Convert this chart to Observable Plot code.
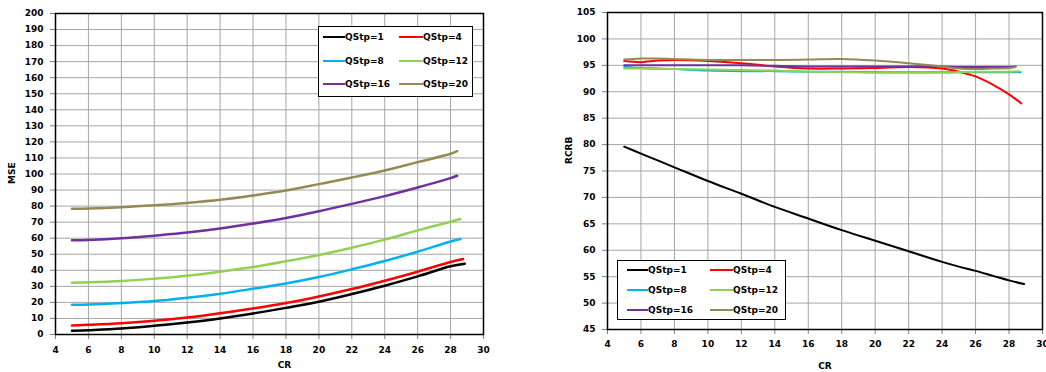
<!DOCTYPE html>
<html>
<head>
<meta charset="utf-8">
<script src="https://cdn.jsdelivr.net/npm/d3@7"></script>
<script src="https://cdn.jsdelivr.net/npm/@observablehq/plot@0.6"></script>
<style>
  html, body { margin: 0; padding: 0; background: white; }
  #wrap { position: relative; width: 1046px; height: 372px; overflow: hidden; font-family: "DejaVu Sans", sans-serif; font-weight: bold; font-size: 9px; }
  #wrap svg { position: absolute; top: 0; max-width: none; }
  .legend { position: absolute; background: white; border: 1.5px solid black; box-sizing: border-box; }
  .sw { position: absolute; height: 2.5px; }
  .lt { position: absolute; line-height: 10px; white-space: nowrap; color: black; }
</style>
</head>
<body>
<div id="wrap"></div>
<script>
// ---------- data ----------
const seriesNames = ["QStp=1", "QStp=4", "QStp=8", "QStp=12", "QStp=16", "QStp=20"];
const seriesColors = ["#000000", "#ff0000", "#00b0f0", "#92d050", "#7030a0", "#948a54"];

// Left chart: MSE vs CR
const crLeft = [5, 6, 8, 10, 12, 14, 16, 18, 20, 22, 24, 26, 28];
const crLeftEnd = [28.86, 28.76, 28.6, 28.58, 28.4, 28.4];
const mse1  = [2.3, 2.7, 3.7, 5.4, 7.5, 10.0, 13.1, 16.6, 20.4, 25.2, 30.4, 36.2, 42.5, 44.1];
const mse4  = [5.6, 6.0, 7.0, 8.5, 10.6, 13.3, 16.2, 19.6, 23.7, 28.3, 33.5, 39.1, 45.2, 47.0];
const mse8  = [18.5, 18.7, 19.6, 20.8, 22.9, 25.4, 28.5, 31.8, 35.8, 40.6, 45.8, 51.6, 57.9, 59.5];
const mse12 = [32.3, 32.5, 33.3, 34.8, 36.6, 39.1, 42.0, 45.6, 49.5, 54.1, 59.1, 64.9, 70.3, 72.0];
const mse16 = [58.7, 58.9, 59.9, 61.6, 63.5, 66.0, 69.1, 72.6, 76.8, 81.4, 86.2, 91.6, 97.4, 98.9];
const mse20 = [78.3, 78.5, 79.3, 80.5, 82.0, 83.9, 86.6, 89.7, 93.7, 97.8, 102.2, 107.4, 112.6, 114.3];
const mseTicksY = d3.range(0, 201, 10);
const crTicks = d3.range(4, 31, 2);

// Right chart: RCRB vs CR
const crRight = [5, 6, 7, 8, 10, 12, 14, 16, 18, 20, 22, 24, 25, 26, 27, 28];
const crRightEnd = [28.9, 28.73, 28.7, 28.6, 28.4, 28.4];
const rcrb1  = [79.6, 78.3, 77.0, 75.7, 73.1, 70.7, 68.2, 66.0, 63.8, 61.8, 59.8, 57.8, 56.9, 56.1, 55.2, 54.3, 53.6];
const rcrb4  = [95.8, 95.6, 95.9, 96.0, 95.8, 95.4, 94.8, 94.4, 94.4, 94.5, 94.7, 94.4, 93.8, 92.9, 91.4, 89.5, 87.8];
const rcrb8  = [94.7, 94.5, 94.4, 94.3, 94.0, 93.9, 93.9, 93.8, 93.8, 93.7, 93.7, 93.7, 93.7, 93.7, 93.7, 93.7, 93.7];
const rcrb12 = [94.4, 94.4, 94.3, 94.3, 94.2, 94.1, 94.0, 93.8, 93.7, 93.6, 93.6, 93.6, 93.7, 93.8, 93.8, 93.8, 93.9];
const rcrb16 = [95.0, 95.0, 95.0, 95.0, 95.0, 95.0, 94.9, 94.8, 94.8, 94.8, 94.8, 94.8, 94.7, 94.7, 94.7, 94.7, 94.8];
const rcrb20 = [96.1, 96.3, 96.3, 96.2, 96.0, 96.0, 96.0, 96.1, 96.2, 95.9, 95.4, 94.8, 94.4, 94.3, 94.4, 94.5, 94.7];
const rcrbTicksY = d3.range(45, 106, 5);

// ---------- build tables ----------
function buildRows(grid, ends, valueLists) {
  const rows = [];
  valueLists.forEach((vals, k) => {
    grid.forEach((c, i) => rows.push({series: seriesNames[k], cr: c, v: vals[i]}));
    rows.push({series: seriesNames[k], cr: ends[k], v: vals[grid.length]});
  });
  return rows;
}
const leftRows = buildRows(crLeft, crLeftEnd, [mse1, mse4, mse8, mse12, mse16, mse20]);
const rightRows = buildRows(crRight, crRightEnd, [rcrb1, rcrb4, rcrb8, rcrb12, rcrb16, rcrb20]);

const fontStyle = {fontFamily: "DejaVu Sans, sans-serif", fontSize: "9px", fontWeight: "bold", background: "white", overflow: "visible"};
const gridColor = "#a6a6a6";

function makeChart({rows, width, ml, mr, mt, mb, yDomain, yTicks, yLabel, yLabelDx, yLabelDy, xLabelDx, xLabelDy, sw, xTickPad}) {
  return Plot.plot({
    width, height: 372,
    marginLeft: ml, marginRight: mr, marginTop: mt, marginBottom: mb,
    style: fontStyle,
    x: {domain: [4, 30]},
    y: {domain: yDomain},
    color: {domain: seriesNames, range: seriesColors},
    marks: [
      Plot.gridX(crTicks, {stroke: gridColor, strokeOpacity: 1, strokeWidth: 1}),
      Plot.gridY(yTicks, {stroke: gridColor, strokeOpacity: 1, strokeWidth: 1}),
      Plot.axisX(crTicks, {tickSize: 5, tickPadding: xTickPad, stroke: "#808080", fill: "black", label: null}),
      Plot.axisY(yTicks, {tickSize: 5, tickPadding: 7, stroke: "#808080", fill: "black", label: null}),
      Plot.line(rows, {x: "cr", y: "v", z: "series", stroke: "series", strokeWidth: sw, curve: "catmull-rom"}),
      Plot.frame({stroke: "black", strokeWidth: 1.5}),
      Plot.text([yLabel], {frameAnchor: "left", text: d => d, rotate: -90, dx: yLabelDx, dy: yLabelDy, fill: "black"}),
      Plot.text(["CR"], {frameAnchor: "bottom", text: d => d, dx: xLabelDx, dy: xLabelDy, fill: "black"})
    ]
  });
}

const wrap = document.getElementById("wrap");

const left = makeChart({
  rows: leftRows, width: 500, ml: 55, mr: 17, mt: 13, mb: 38,
  yDomain: [0, 200], yTicks: mseTicksY, yLabel: "MSE",
  yLabelDx: -43, yLabelDy: 10, xLabelDx: 15, xLabelDy: 33, sw: 2.5, xTickPad: 7
});
left.style.left = "0px";
wrap.appendChild(left);

const right = makeChart({
  rows: rightRows, width: 526, ml: 87, mr: 4, mt: 12, mb: 43,
  yDomain: [45, 105], yTicks: rcrbTicksY, yLabel: "RCRB",
  yLabelDx: -38, yLabelDy: -7, xLabelDx: 0, xLabelDy: 39, sw: 2, xTickPad: 6
});
right.style.left = "520px";
wrap.appendChild(right);

// ---------- legends ----------
function legend(box, rowsY, col1, col2) {
  const div = document.createElement("div");
  div.className = "legend";
  Object.assign(div.style, {left: box.x + "px", top: box.y + "px", width: box.w + "px", height: box.h + "px"});
  seriesNames.forEach((name, i) => {
    const col = i % 2 === 0 ? col1 : col2;
    const ry = rowsY[Math.floor(i / 2)];
    const sw = document.createElement("div");
    sw.className = "sw";
    Object.assign(sw.style, {left: col.lx + "px", width: col.lw + "px", top: (ry - 1.25) + "px", background: seriesColors[i]});
    const t = document.createElement("div");
    t.className = "lt";
    t.textContent = name;
    Object.assign(t.style, {left: col.tx + "px", top: (ry - 5) + "px"});
    div.appendChild(sw);
    div.appendChild(t);
  });
  wrap.appendChild(div);
}
legend({x: 318, y: 26, w: 155, h: 71}, [10, 34, 57], {lx: 4, lw: 22, tx: 26}, {lx: 80, lw: 24, tx: 104});
legend({x: 617, y: 260, w: 169, h: 60}, [9, 29, 49], {lx: 9, lw: 21, tx: 30}, {lx: 92, lw: 23, tx: 115});
</script>
</body>
</html>
